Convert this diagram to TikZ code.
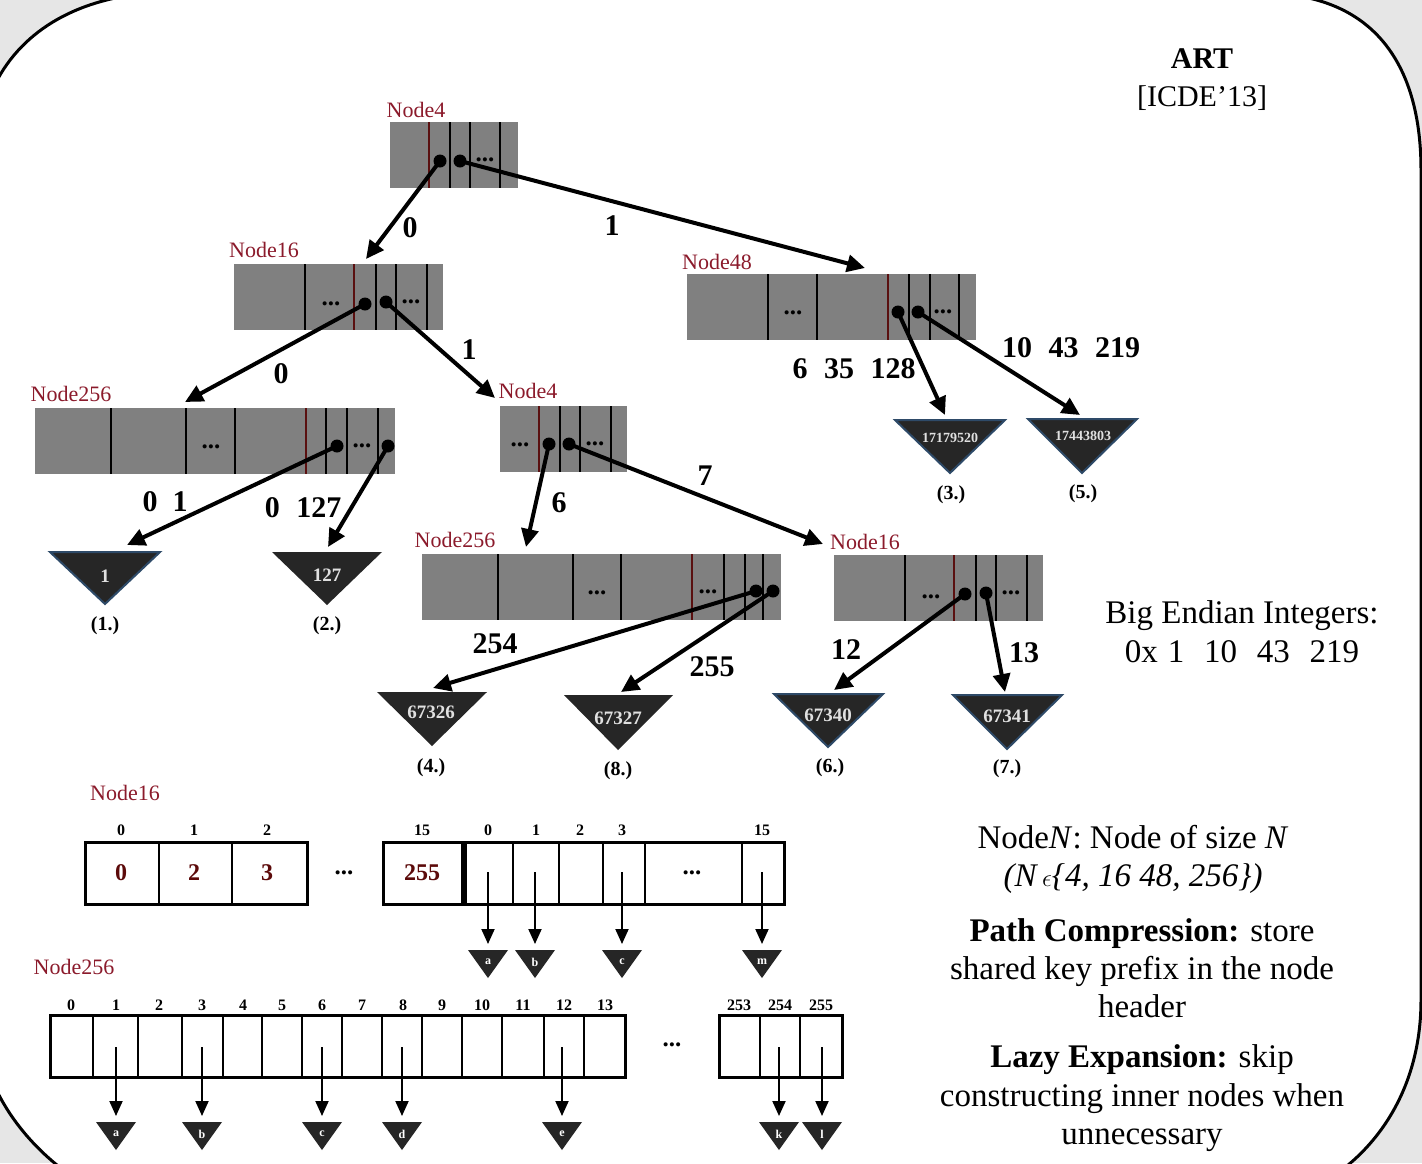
\documentclass[tikz,border=0pt]{standalone}
\usepackage{fontspec}
\setmainfont{Liberation Serif}
\usetikzlibrary{arrows.meta}
\definecolor{nred}{HTML}{8B1A2B}
\definecolor{vred}{HTML}{5C0A0A}
\definecolor{ngray}{HTML}{808080}
\definecolor{sepred}{HTML}{5A1010}
\definecolor{leaffill}{HTML}{262626}
\definecolor{leafedge}{HTML}{2E4A68}
\definecolor{bggray}{HTML}{E6E6E6}
\begin{document}
\begin{tikzpicture}[x=1pt,y=-1pt,
  nlabel/.style={text=nred,font=\fontsize{22}{26}\selectfont,inner sep=0pt},
  graybox/.style={fill=ngray,draw=none},
  sepb/.style={line width=2.5pt,draw=black},
  sepr/.style={line width=2.5pt,draw=sepred},
  ptr/.style={circle,fill=black,inner sep=0pt,minimum size=13pt},
  edge/.style={line width=4pt,-{Triangle[length=18pt,width=17pt]}},
  elabel/.style={font=\fontsize{30}{34}\selectfont\bfseries,inner sep=0pt},
  gdots/.style={font=\fontsize{25}{28}\selectfont\bfseries,inner sep=0pt},
  leafb/.style={fill=leaffill,draw=leafedge,line width=2pt,line join=miter},
  leafn/.style={fill=leaffill,draw=none},
  leaftext/.style={text=white!88!black,font=\fontsize{19}{21}\selectfont\bfseries,inner sep=0pt},
  leafsmall/.style={text=white!88!black,font=\fontsize{14}{16}\selectfont\bfseries,inner sep=0pt},
  leafid/.style={font=\fontsize{20}{22}\selectfont\bfseries,inner sep=0pt},
  arr/.style={line width=3pt,draw=black},
  asep/.style={line width=2pt,draw=black},
  ilabel/.style={font=\fontsize{16}{18}\selectfont\bfseries,inner sep=0pt},
  vlabel/.style={text=vred,font=\fontsize{24}{28}\selectfont\bfseries,inner sep=0pt},
  sarrow/.style={line width=2pt,-{Triangle[length=15pt,width=13pt]}},
  stri/.style={fill=leaffill,draw=none},
  sletter/.style={text=white,font=\fontsize{12}{14}\selectfont\bfseries,inner sep=0pt},
  rtext/.style={font=\fontsize{33}{38}\selectfont,inner sep=0pt,anchor=base},
  ttext/.style={font=\fontsize{30}{36}\selectfont,inner sep=0pt,anchor=base}]

% background and frame
\fill[bggray] (0,0) rectangle (1422,1163);
\useasboundingbox (0,0) rectangle (1422,1163);
\filldraw[fill=white,draw=black,line width=3pt]
  (-10,95) .. controls (15,35) and (70,2) .. (140,-6) -- (1280,-6)
  .. controls (1370,0) and (1421,60) .. (1421,170) -- (1421,1000)
  .. controls (1421,1080) and (1385,1140) .. (1335,1175) -- (70,1175)
  .. controls (35,1150) and (5,1115) .. (-10,1075) -- cycle;

% title
\node[ttext,font=\fontsize{30}{36}\selectfont\bfseries] (title) at (1202,68) {ART};
\node[ttext] (venue) at (1202,106) {[ICDE’13]};

% ---------- Node4 (root)
\node[nlabel] (l4a) at (416,110) {Node4};
\fill[graybox] (390,122) rectangle (518,188);
\draw[sepr] (429,122) -- (429,188);
\foreach \x in {450,470,500} \draw[sepb] (\x,122) -- (\x,188);
\node[gdots] (d4a) at (485,160) {...};
\node[ptr] (p4a) at (440,161) {};
\node[ptr] (p4b) at (460,161) {};

% ---------- Node16 (upper)
\node[nlabel] (l16a) at (264,250) {Node16};
\fill[graybox] (234,264) rectangle (443,330);
\draw[sepr] (354,264) -- (354,330);
\foreach \x in {305,376,396,427} \draw[sepb] (\x,264) -- (\x,330);
\node[gdots] (d16a) at (331,304) {...};
\node[gdots] (d16b) at (411,302) {...};
\node[ptr] (p16a) at (365,304) {};
\node[ptr] (p16b) at (386,302) {};

% ---------- Node48
\node[nlabel] (l48) at (717,262) {Node48};
\fill[graybox] (687,274) rectangle (976,340);
\draw[sepr] (888,274) -- (888,340);
\foreach \x in {768,817,909,930,959} \draw[sepb] (\x,274) -- (\x,340);
\node[gdots] (d48a) at (793,313) {...};
\node[gdots] (d48b) at (943,312) {...};
\node[ptr] (p48a) at (898,312) {};
\node[ptr] (p48b) at (918,312) {};

% ---------- Node256 (left)
\node[nlabel] (l256a) at (71,394) {Node256};
\fill[graybox] (35,408) rectangle (395,474);
\draw[sepr] (306,408) -- (306,474);
\foreach \x in {111,186,235,326,347,378} \draw[sepb] (\x,408) -- (\x,474);
\node[gdots] (d256a) at (211,447) {...};
\node[gdots] (d256b) at (362,446) {...};
\node[ptr] (p256a) at (337,446) {};
\node[ptr] (p256b) at (388,446) {};

% ---------- Node4 (middle)
\node[nlabel] (l4b) at (528,391) {Node4};
\fill[graybox] (500,406) rectangle (627,472);
\draw[sepr] (539,406) -- (539,472);
\foreach \x in {560,580,611} \draw[sepb] (\x,406) -- (\x,472);
\node[gdots] (d4b) at (520,445) {...};
\node[gdots] (d4c) at (595,444) {...};
\node[ptr] (p4c) at (549,444) {};
\node[ptr] (p4d) at (569,444) {};

% ---------- Node256 (middle)
\node[nlabel] (l256b) at (455,540) {Node256};
\fill[graybox] (422,554) rectangle (781,620);
\draw[sepr] (692,554) -- (692,620);
\foreach \x in {498,573,621,724,745,763} \draw[sepb] (\x,554) -- (\x,620);
\node[gdots] (d256c) at (597,593) {...};
\node[gdots] (d256d) at (708,592) {...};
\node[ptr] (p256c) at (756,591) {};
\node[ptr] (p256d) at (773,591) {};

% ---------- Node16 (right)
\node[nlabel] (l16b) at (865,542) {Node16};
\fill[graybox] (834,555) rectangle (1043,621);
\draw[sepr] (954,555) -- (954,621);
\foreach \x in {905,976,996,1027} \draw[sepb] (\x,555) -- (\x,621);
\node[gdots] (d16c) at (931,597) {...};
\node[gdots] (d16d) at (1011,593) {...};
\node[ptr] (p16c) at (965,594) {};
\node[ptr] (p16d) at (986,593) {};

% ---------- leaves
\path[leafb] (50,552) -- (160,552) -- (105,604) -- cycle;
\node[leaftext] (v1) at (105,576) {1};
\node[leafid] (i1) at (105,626) {(1.)};
\path[leafn] (272,552) -- (382,552) -- (327,605) -- cycle;
\node[leaftext] (v2) at (327,575) {127};
\node[leafid] (i2) at (327,626) {(2.)};
\path[leafb] (895,420) -- (1005,420) -- (950,473) -- cycle;
\node[leafsmall] (v3) at (950,438) {17179520};
\node[leafid] (i3) at (951,495) {(3.)};
\path[leafb] (1028,419) -- (1137,419) -- (1082,473) -- cycle;
\node[leafsmall] (v5) at (1083,436) {17443803};
\node[leafid] (i5) at (1083,494) {(5.)};
\path[leafn] (377,692) -- (487,692) -- (432,746) -- cycle;
\node[leaftext] (v4) at (431,712) {67326};
\node[leafid] (i4) at (431,768) {(4.)};
\path[leafn] (564,695) -- (673,695) -- (618,750) -- cycle;
\node[leaftext] (v8) at (618,718) {67327};
\node[leafid] (i8) at (618,771) {(8.)};
\path[leafb] (774,694) -- (883,694) -- (828,747) -- cycle;
\node[leaftext] (v6) at (828,715) {67340};
\node[leafid] (i6) at (830,768) {(6.)};
\path[leafb] (953,695) -- (1062,695) -- (1007,749) -- cycle;
\node[leaftext] (v7) at (1007,716) {67341};
\node[leafid] (i7) at (1007,769) {(7.)};

% ---------- arrow targets
\coordinate (t16a) at (366,259);
\coordinate (t48) at (865,268);
\coordinate (t256a) at (185,402);
\coordinate (t4b) at (495,398);
\coordinate (tl1) at (127,545);
\coordinate (tl2) at (328,547);
\coordinate (tl3) at (945,415);
\coordinate (tl5) at (1080,415);
\coordinate (t256b) at (526,547);
\coordinate (t16b) at (823,544);
\coordinate (tl4) at (433,688);
\coordinate (tl8) at (621,692);
\coordinate (tl6) at (834,690);
\coordinate (tl7) at (1005,692);

% ---------- edges
\draw[edge] (p4a.center) -- (t16a);
\draw[edge] (p4b.center) -- (t48);
\draw[edge] (p16a.center) -- (t256a);
\draw[edge] (p16b.center) -- (t4b);
\draw[edge] (p48a.center) -- (tl3);
\draw[edge] (p48b.center) -- (tl5);
\draw[edge] (p256a.center) -- (tl1);
\draw[edge] (p256b.center) -- (tl2);
\draw[edge] (p4c.center) -- (t256b);
\draw[edge] (p4d.center) -- (t16b);
\draw[edge] (p256c.center) -- (tl4);
\draw[edge] (p256d.center) -- (tl8);
\draw[edge] (p16c.center) -- (tl6);
\draw[edge] (p16d.center) -- (tl7);

% ---------- edge labels
\node[elabel] (e1) at (410,228) {0};
\node[elabel] (e2) at (612,226) {1};
\node[elabel] (e3) at (281,374) {0};
\node[elabel] (e4) at (469,350) {1};
\node[elabel] (e5) at (854,369) {6\hspace{.55em}35\hspace{.55em}128};
\node[elabel] (e6) at (1071,348) {10\hspace{.55em}43\hspace{.55em}219};
\node[elabel] (e7) at (165,502) {0\hspace{.5em}1};
\node[elabel] (e8) at (303,508) {0\hspace{.55em}127};
\node[elabel] (e9) at (559,503) {6};
\node[elabel] (e10) at (705,476) {7};
\node[elabel] (e11) at (495,644) {254};
\node[elabel] (e12) at (712,667) {255};
\node[elabel] (e13) at (846,650) {12};
\node[elabel] (e14) at (1024,653) {13};

% ---------- Big endian text
\node[rtext] (be1) at (1242,623) {Big Endian Integers:};
\node[rtext] (be2) at (1242,662) {0x\hspace{.3em}1\hspace{.6em}10\hspace{.6em}43\hspace{.6em}219};

% ---------- lower Node16 array
\node[nlabel] (l16c) at (125,793) {Node16};
\draw[arr] (85,842) rectangle (307,904);
\foreach \x in {159,232} \draw[asep] (\x,842) -- (\x,904);
\draw[arr] (383,842) rectangle (462,904);
\draw[arr] (465,842) rectangle (784,904);
\foreach \x in {513,559,603,645,742} \draw[asep] (\x,842) -- (\x,904);
\node[ilabel] (k0) at (121,830) {0};
\node[ilabel] (k1) at (194,830) {1};
\node[ilabel] (k2) at (267,830) {2};
\node[ilabel] (k15) at (422,830) {15};
\node[ilabel] (c0) at (488,830) {0};
\node[ilabel] (c1) at (536,830) {1};
\node[ilabel] (c2) at (580,830) {2};
\node[ilabel] (c3) at (622,830) {3};
\node[ilabel] (c15) at (762,830) {15};
\node[vlabel] (kv0) at (121,873) {0};
\node[vlabel] (kv1) at (194,873) {2};
\node[vlabel] (kv2) at (267,873) {3};
\node[vlabel] (kv15) at (422,873) {255};
\node[gdots] (dk) at (344,873) {...};
\node[gdots] (dc) at (692,873) {...};
\foreach \n/\x/\l in {a/488/a,b/535/b,c/622/c,m/762/m}{
  \coordinate (s16\n) at (\x,872);
  \coordinate (s16t\n) at (\x,944);
  \draw[sarrow] (s16\n) -- (s16t\n);
  \path[stri] (\x-20,950) -- (\x+20,950) -- (\x,978) -- cycle;
  \node[sletter] (s16l\n) at (\x,962) {\l};
}

% ---------- lower Node256 array
\node[nlabel] (l256c) at (74,967) {Node256};
\draw[arr] (50,1015) rectangle (625,1077);
\foreach \x in {93,138,182,223,262,302,342,382,422,462,502,544,584} \draw[asep] (\x,1015) -- (\x,1077);
\foreach \x/\t in {71/0,116/1,159/2,202/3,243/4,282/5,322/6,362/7,403/8,442/9,482/10,523/11,564/12,605/13}
  \node[ilabel] (g\t) at (\x,1005) {\t};
\draw[arr] (719,1015) rectangle (842,1077);
\foreach \x in {760,800} \draw[asep] (\x,1015) -- (\x,1077);
\node[ilabel] (g253) at (739,1005) {253};
\node[ilabel] (g254) at (780,1005) {254};
\node[ilabel] (g255) at (821,1005) {255};
\node[gdots] (dg) at (672,1045) {...};
\foreach \n/\x/\l in {a/116/a,b/202/b,c/322/c,d/402/d,e/562/e,k/779/k,l/822/l}{
  \coordinate (s256\n) at (\x,1047);
  \coordinate (s256t\n) at (\x,1116);
  \draw[sarrow] (s256\n) -- (s256t\n);
  \path[stri] (\x-20,1122) -- (\x+20,1122) -- (\x,1150) -- cycle;
  \node[sletter] (s256l\n) at (\x,1134) {\l};
}

% ---------- legend text
\node[rtext] (r1) at (1133,848) {Node\textit{N}: Node of size \textit{N}};
\node[rtext] (r2) at (1133,886) {\textit{(N\,$\epsilon$\{4, 16 48, 256\})}};
\node[rtext] (r3) at (1142,941) {\textbf{Path Compression:} store};
\node[rtext] (r4) at (1142,979) {shared key prefix in the node};
\node[rtext] (r5) at (1142,1017) {header};
\node[rtext] (r6) at (1142,1067) {\textbf{Lazy Expansion:} skip};
\node[rtext] (r7) at (1142,1106) {constructing inner nodes when};
\node[rtext] (r8) at (1142,1144) {unnecessary};
\end{tikzpicture}
\end{document}
